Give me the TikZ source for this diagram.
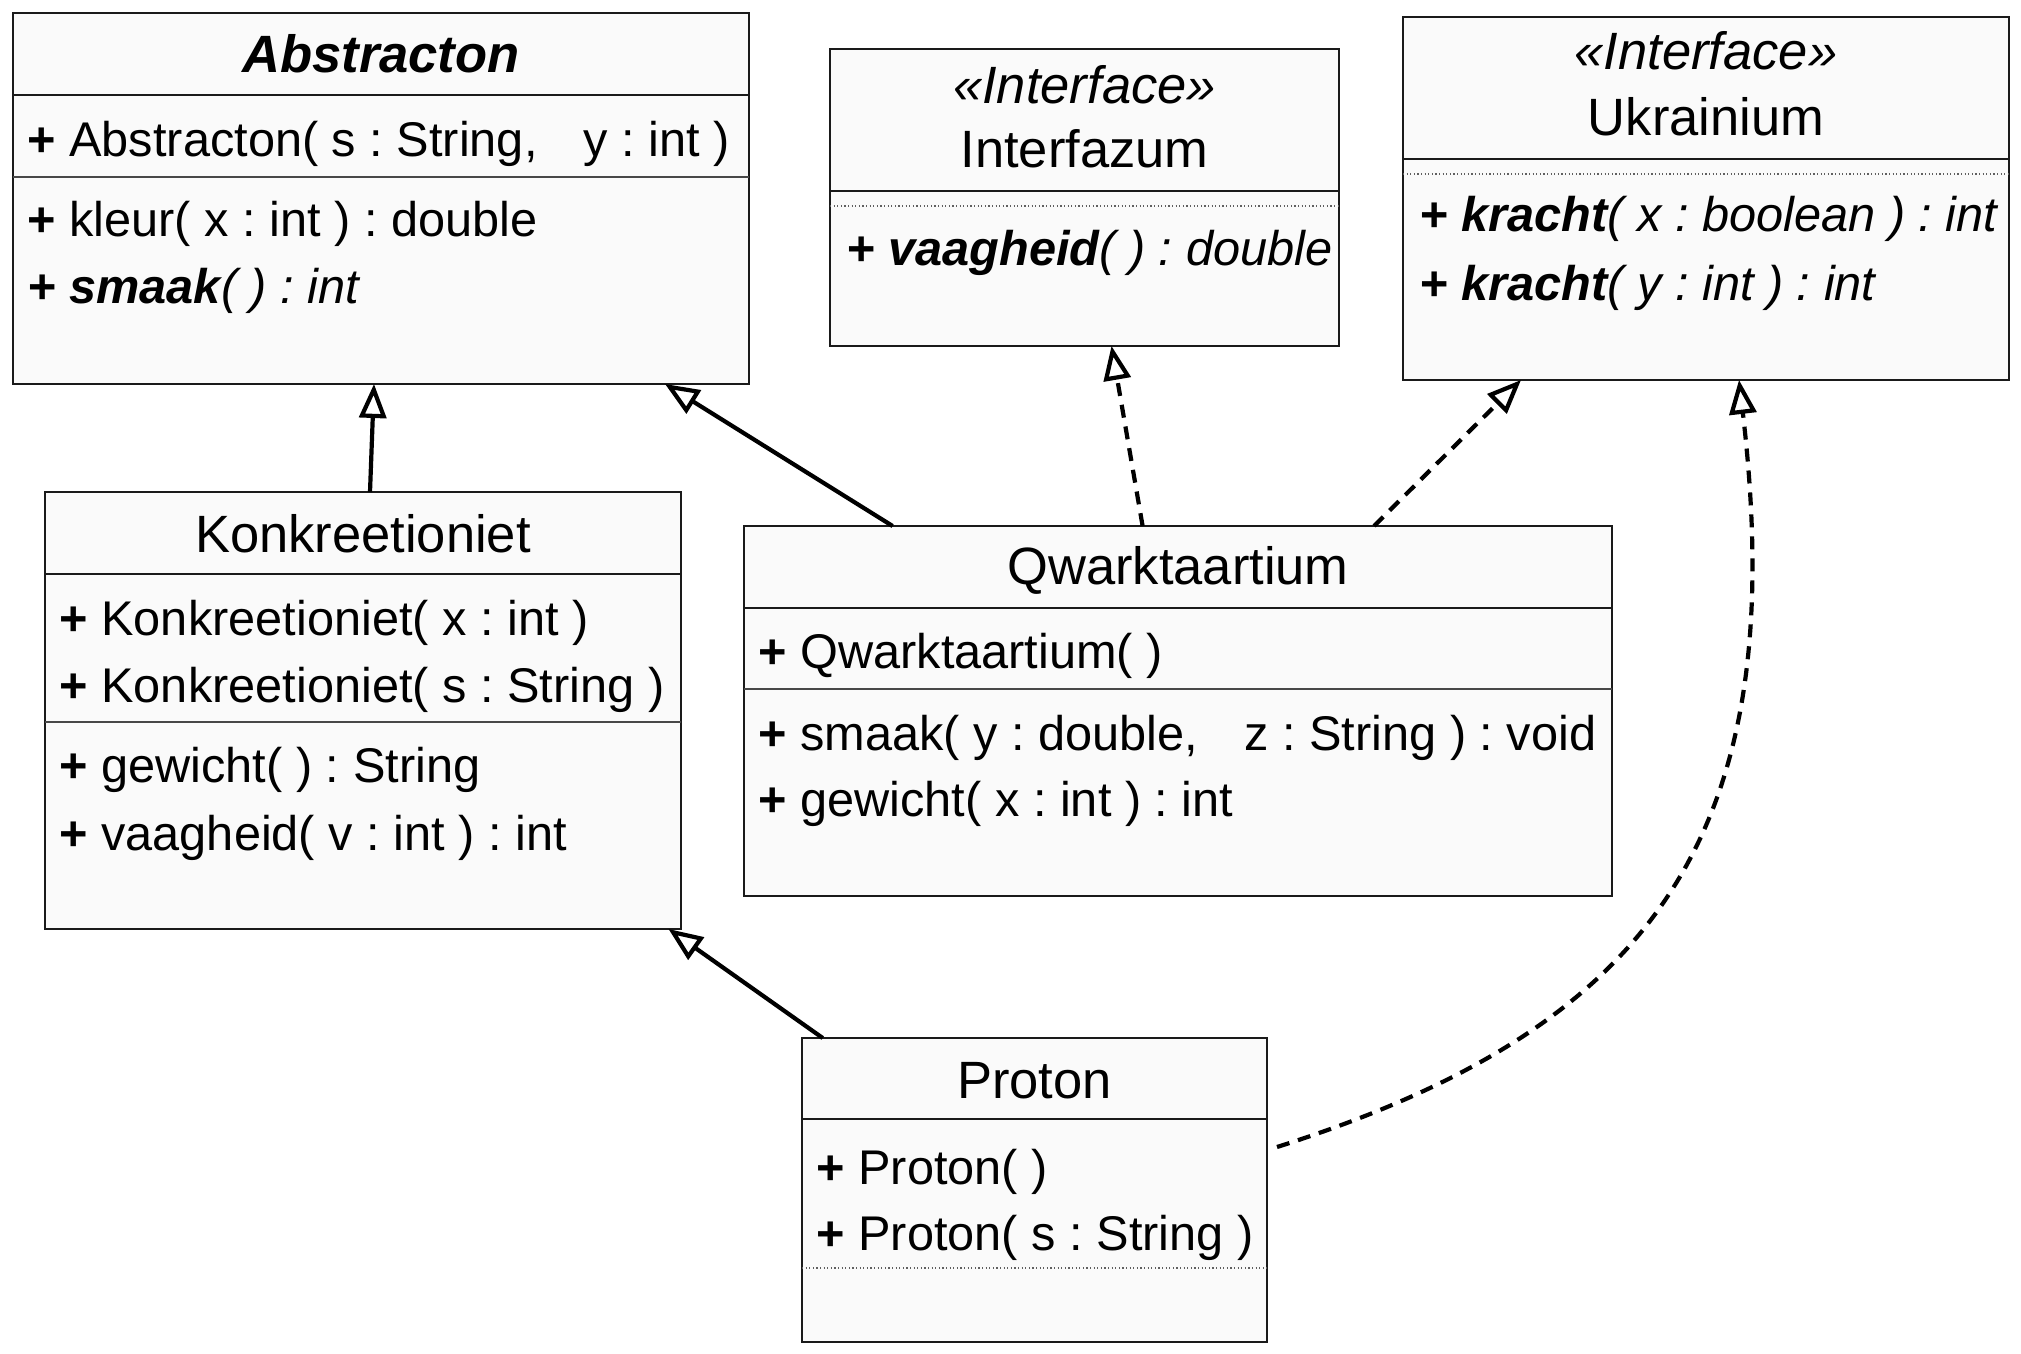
\documentclass[tikz,border=0pt]{standalone}
\usepackage{fontspec}
\setmainfont{Liberation Sans}
\usetikzlibrary{arrows.meta}
\definecolor{boxfill}{HTML}{FAFAFA}
\definecolor{ink}{HTML}{1A1A1A}
\newcommand\TtlFont{\fontsize{26.25pt}{31pt}\selectfont}
\newcommand\MbrFont{\fontsize{24.35pt}{29pt}\selectfont}
\newcommand\gapsp{\hspace{0.95em}}
\newcommand\pl{\textbf{+}}
\frenchspacing

\begin{document}
\frenchspacing
\begin{tikzpicture}[x=0.5pt,y=-0.5pt,
 umlbox/.style={draw=ink, fill=boxfill, line width=1.15pt, rectangle, inner sep=0pt, outer sep=0pt},
 hdr/.style={draw=ink, line width=1pt},
 sepline/.style={draw=ink!80, line width=0.7pt},
 dotline/.style={draw=ink!70, line width=0.6pt, dash pattern=on 0.6pt off 1.2pt},
 ttl/.style={anchor=base, inner sep=0pt, font=\TtlFont},
 mbr/.style={anchor=base west, inner sep=0pt, font=\MbrFont},
 inherit/.style={draw=black, line width=2.1pt, line join=miter, -{Triangle[length=17pt,width=13.5pt,fill=white]}},
 realize/.style={inherit, dash pattern=on 6.5pt off 4.5pt},
]
\useasboundingbox[fill=white] (0,0) rectangle (2021,1353);

% ---------- boxes ----------
\node[umlbox, minimum width=368pt, minimum height=185.5pt] (A) at (381,198.5) {};
\node[umlbox, minimum width=254.5pt, minimum height=148.5pt] (I) at (1084.5,197.5) {};
\node[umlbox, minimum width=303pt, minimum height=181.5pt] (U) at (1706,198.5) {};
\node[umlbox, minimum width=318pt, minimum height=218.5pt] (K) at (363,710.5) {};
\node[umlbox, minimum width=434pt, minimum height=185pt] (Q) at (1178,711) {};
\node[umlbox, minimum width=232.5pt, minimum height=152pt] (P) at (1034.5,1190) {};

% ---------- compartments ----------
\draw[hdr] ([shift={(0,82)}]A.north west) -- ([shift={(0,82)}]A.north east);
\draw[sepline] ([shift={(0,164)}]A.north west) -- ([shift={(0,164)}]A.north east);
\draw[hdr] ([shift={(0,142)}]I.north west) -- ([shift={(0,142)}]I.north east);
\draw[dotline] ([shift={(0,157)}]I.north west) -- ([shift={(0,157)}]I.north east);
\draw[hdr] ([shift={(0,142)}]U.north west) -- ([shift={(0,142)}]U.north east);
\draw[dotline] ([shift={(0,157)}]U.north west) -- ([shift={(0,157)}]U.north east);
\draw[hdr] ([shift={(0,82)}]K.north west) -- ([shift={(0,82)}]K.north east);
\draw[sepline] ([shift={(0,230)}]K.north west) -- ([shift={(0,230)}]K.north east);
\draw[hdr] ([shift={(0,82)}]Q.north west) -- ([shift={(0,82)}]Q.north east);
\draw[sepline] ([shift={(0,163)}]Q.north west) -- ([shift={(0,163)}]Q.north east);
\draw[hdr] ([shift={(0,81)}]P.north west) -- ([shift={(0,81)}]P.north east);
\draw[dotline] ([shift={(0,230)}]P.north west) -- ([shift={(0,230)}]P.north east);

% ---------- texts ----------
% Abstracton
\node[ttl] (At) at (381,73) {\bfseries\itshape Abstracton};
\node[mbr] (A1) at (27,157) {\pl{} Abstracton( s : String,\gapsp y : int )};
\node[mbr] (A2) at (27,237) {\pl{} kleur( x : int ) : double};
\node[mbr] (A3) at (27,304) {\itshape\bfseries + smaak\mdseries( ) : int};
% Interfazum
\node[ttl] (Is) at (1084.5,104) {\itshape «Interface»};
\node[ttl] (It) at (1084.5,168) {Interfazum};
\node[mbr] (I1) at (846,266) {\itshape\bfseries + vaagheid\mdseries( ) : double};
% Ukrainium
\node[ttl] (Us) at (1706,70) {\itshape «Interface»};
\node[ttl] (Ut) at (1706,136) {Ukrainium};
\node[mbr] (U1) at (1419,232) {\itshape\bfseries + kracht\mdseries( x : boolean ) : int};
\node[mbr] (U2) at (1419,300) {\itshape\bfseries + kracht\mdseries( y : int ) : int};
% Konkreetioniet
\node[ttl] (Kt) at (363,552) {Konkreetioniet};
\node[mbr] (K1) at (59,635) {\pl{} Konkreetioniet( x : int )};
\node[mbr] (K2) at (59,702) {\pl{} Konkreetioniet( s : String )};
\node[mbr] (K3) at (59,782) {\pl{} gewicht( ) : String};
\node[mbr] (K4) at (59,850) {\pl{} vaagheid( v : int ) : int};
% Qwarktaartium
\node[ttl] (Qt) at (1178,584) {Qwarktaartium};
\node[mbr] (Q1) at (758,668) {\pl{} Qwarktaartium( )};
\node[mbr] (Q2) at (758,750) {\pl{} smaak( y : double,\gapsp z : String ) : void};
\node[mbr] (Q3) at (758,816) {\pl{} gewicht( x : int ) : int};
% Proton
\node[ttl] (Pt) at (1034.5,1098) {Proton};
\node[mbr] (P1) at (816,1184) {\pl{} Proton( )};
\node[mbr] (P2) at (816,1250) {\pl{} Proton( s : String )};

% ---------- connectors ----------
\draw[inherit] ([shift={(325,0)}]K.north west) -- ([shift={(361,0)}]A.south west);
\draw[inherit] ([shift={(148.6,0)}]Q.north west) -- ([shift={(652,0)}]A.south west);
\draw[realize] ([shift={(398.6,0)}]Q.north west) -- ([shift={(281.5,0)}]I.south west);
\draw[realize] ([shift={(630,0)}]Q.north west) -- ([shift={(118,0)}]U.south west);
\draw[inherit] ([shift={(20.7,0)}]P.north west) -- ([shift={(-12.5,0)}]K.south east);
\draw[realize] ([shift={(10,109)}]P.north east) .. controls (1662,1025) and (1791,826) .. ([shift={(336,0)}]U.south west);
\end{tikzpicture}
\end{document}
